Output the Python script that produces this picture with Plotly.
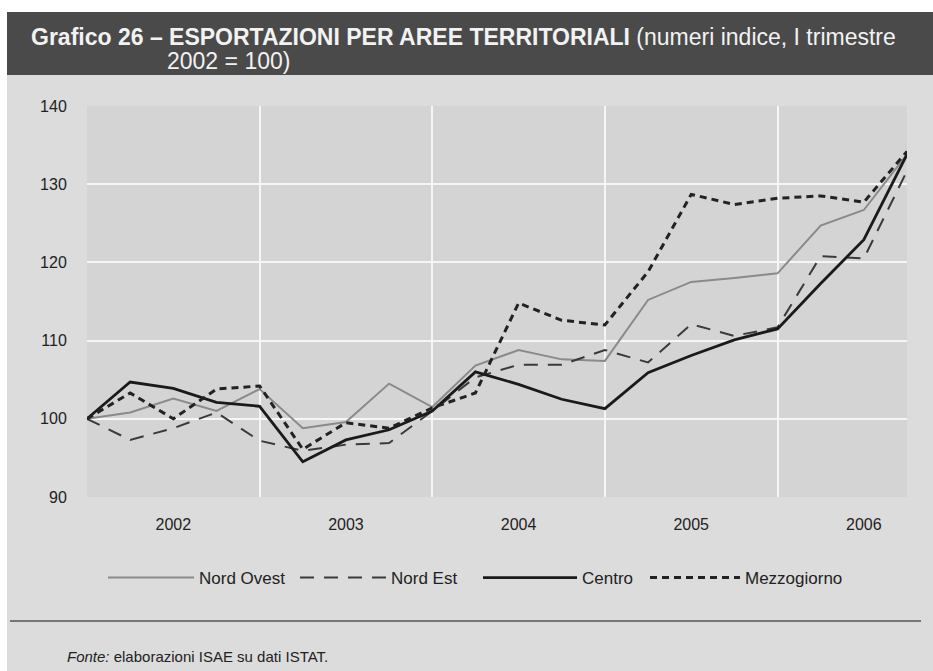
import plotly.graph_objects as go

# ---- data (quarterly index, 2002 Q1 = 100) ----
quarters = list(range(20))  # 2002 Q1 ... 2006 Q4
year_labels = ["2002", "2003", "2004", "2005", "2006"]
year_label_pos = [2, 6, 10, 14, 18]
year_grid_pos = [0, 4, 8, 12, 16, 19]

nord_ovest = [100, 100.8, 102.6, 101.0, 103.8, 98.8, 99.6, 104.5, 101.5, 106.8,
              108.8, 107.6, 107.4, 115.2, 117.5, 118.0, 118.6, 124.7, 126.7, 133.8]
nord_est = [100, 97.3, 98.8, 100.8, 97.2, 95.9, 96.7, 96.9, 101.0, 105.3,
            106.9, 106.9, 108.8, 107.2, 112.1, 110.6, 111.7, 120.8, 120.5, 131.7]
centro = [100, 104.7, 103.9, 102.1, 101.6, 94.5, 97.3, 98.6, 101.0, 106.0,
          104.4, 102.5, 101.3, 105.9, 108.1, 110.1, 111.5, 117.3, 122.9, 133.8]
mezzogiorno = [100, 103.3, 100.0, 103.8, 104.2, 96.1, 99.5, 98.8, 101.4, 103.3,
               114.8, 112.6, 112.0, 118.8, 128.7, 127.4, 128.2, 128.5, 127.7, 134.2]

series_names = ["Nord Ovest", "Nord Est", "Centro", "Mezzogiorno"]

FONT = "Liberation Sans, Arial, Helvetica, sans-serif"

fig = go.Figure()
fig.add_trace(go.Scatter(x=quarters, y=nord_ovest, name=series_names[0], mode="lines",
                         legend="legend",
                         line=dict(color="#8a8a8a", width=2)))
fig.add_trace(go.Scatter(x=quarters, y=nord_est, name=series_names[1], mode="lines",
                         legend="legend2",
                         line=dict(color="#3a3a3a", width=2, dash="14px,10px")))
fig.add_trace(go.Scatter(x=quarters, y=centro, name=series_names[2], mode="lines",
                         legend="legend3",
                         line=dict(color="#1a1a1a", width=2.8)))
fig.add_trace(go.Scatter(x=quarters, y=mezzogiorno, name=series_names[3], mode="lines",
                         legend="legend4",
                         line=dict(color="#222222", width=3, dash="7px,5px")))

W, H = 933, 671
L, R, T, B = 87, 26, 106, 174
pw, ph = W - L - R, H - T - B

def px_x(px):
    return (px - L) / pw

def px_y(py):
    return (H - B - py) / ph

def legend_at(px, itemwidth):
    return dict(orientation="h", x=px_x(px), xanchor="left", y=px_y(578), yanchor="middle",
                font=dict(family=FONT, size=17, color="#222222"),
                bgcolor="rgba(0,0,0,0)", itemwidth=itemwidth)

fig.update_layout(
    width=W, height=H,
    margin=dict(l=L, r=R, t=T, b=B),
    paper_bgcolor="#ffffff",
    plot_bgcolor="#d4d4d4",
    font=dict(family=FONT, size=15, color="#222222"),
    showlegend=True,
    legend=legend_at(103, 86),
    legend2=legend_at(295, 86),
    legend3=legend_at(478, 94),
    legend4=legend_at(645, 90),
    xaxis=dict(range=[0, 19], tickmode="array", tickvals=year_label_pos, ticktext=year_labels,
               showgrid=False, zeroline=False, showline=False,
               ticks="outside", ticklen=13, tickcolor="rgba(0,0,0,0)",
               tickfont=dict(family=FONT, size=16, color="#222222"),
               minor=dict(tickmode="array", tickvals=year_grid_pos, showgrid=True,
                          gridcolor="#f6f6f6", gridwidth=1.5, ticks="")),
    yaxis=dict(range=[90, 140], tickmode="array", tickvals=[90, 100, 110, 120, 130, 140],
               showgrid=True, gridcolor="#f6f6f6", gridwidth=1.5, zeroline=False, showline=False,
               ticks="outside", ticklen=16, tickcolor="rgba(0,0,0,0)",
               tickfont=dict(family=FONT, size=16, color="#222222")),
    shapes=[
        # scanned page background around the plot area (top, bottom, left, right bands)
        dict(type="rect", xref="paper", yref="paper",
             x0=px_x(7), x1=px_x(935), y0=1, y1=px_y(75),
             fillcolor="#dcdcdc", line=dict(width=0), layer="below"),
        dict(type="rect", xref="paper", yref="paper",
             x0=px_x(7), x1=px_x(935), y0=px_y(673), y1=0,
             fillcolor="#dcdcdc", line=dict(width=0), layer="below"),
        dict(type="rect", xref="paper", yref="paper",
             x0=px_x(7), x1=0, y0=0, y1=1,
             fillcolor="#dcdcdc", line=dict(width=0), layer="below"),
        dict(type="rect", xref="paper", yref="paper",
             x0=1, x1=px_x(935), y0=0, y1=1,
             fillcolor="#dcdcdc", line=dict(width=0), layer="below"),
        dict(type="rect", xref="paper", yref="paper",
             x0=px_x(7), x1=px_x(935), y0=px_y(75), y1=px_y(12),
             fillcolor="#4a4a4a", line=dict(width=0), layer="below"),
        dict(type="line", xref="paper", yref="paper",
             x0=px_x(10), x1=px_x(921), y0=px_y(621), y1=px_y(621),
             line=dict(color="#555555", width=1.5)),
    ],
    annotations=[
        dict(xref="paper", yref="paper", x=px_x(29), y=px_y(37), xanchor="left", yanchor="middle",
             showarrow=False, align="left",
             text="<b>Grafico 26 – ESPORTAZIONI PER AREE TERRITORIALI</b> (numeri indice, I trimestre",
             font=dict(family=FONT, size=23, color="#f2f2f2")),
        dict(xref="paper", yref="paper", x=px_x(165), y=px_y(61), xanchor="left", yanchor="middle",
             showarrow=False, align="left", text="2002 = 100)",
             font=dict(family=FONT, size=23, color="#f2f2f2")),
        dict(xref="paper", yref="paper", x=px_x(65), y=px_y(656), xanchor="left", yanchor="middle",
             showarrow=False, align="left",
             text="<i>Fonte:</i> elaborazioni ISAE su dati ISTAT.",
             font=dict(family=FONT, size=15, color="#222222")),
    ],
)

fig.write_html("out.html", config={"displayModeBar": False},
               post_script="document.body.style.margin='0';")
